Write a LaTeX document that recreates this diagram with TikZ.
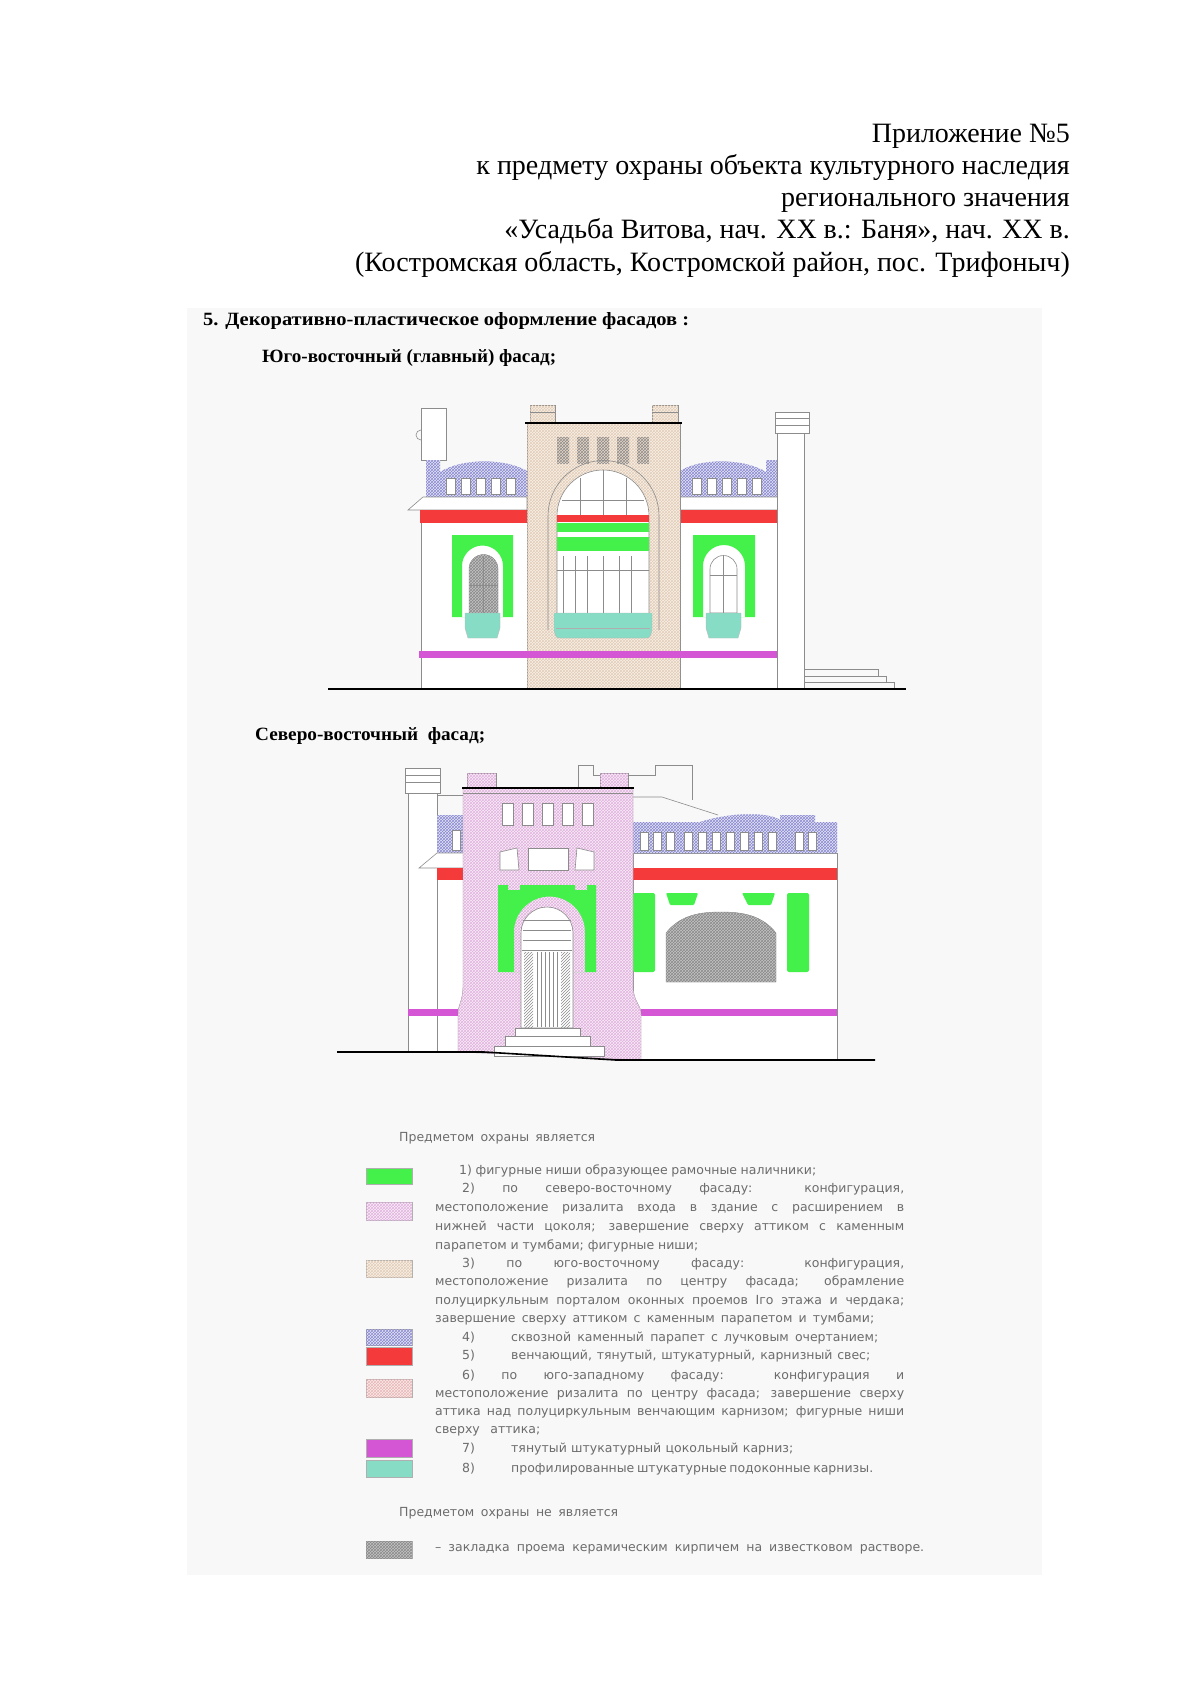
\documentclass[tikz,border=0pt]{standalone}
\usepackage{fontspec}
\setmainfont{Liberation Serif}
\newfontfamily\cadfont{DejaVu Sans}
\usetikzlibrary{patterns}
\definecolor{panel}{HTML}{F8F8F8}
\definecolor{cgreen}{HTML}{44F04A}
\definecolor{cred}{HTML}{F43A3A}
\definecolor{cmag}{HTML}{D456D4}
\definecolor{cteal}{HTML}{86DCC4}
\definecolor{cbeige}{HTML}{F8F0E6}
\definecolor{cbeigeP}{HTML}{E2CDB8}
\definecolor{cpink}{HTML}{FAEAF8}
\definecolor{cpinkP}{HTML}{E0B4DE}
\definecolor{cblue}{HTML}{E4E4F6}
\definecolor{cblueP}{HTML}{8A8AD0}
\definecolor{clpink}{HTML}{FBEAEA}
\definecolor{clpinkP}{HTML}{E8B8B8}
\definecolor{cgray}{HTML}{C4C4C4}
\definecolor{cgrayP}{HTML}{8A8A8A}
\definecolor{lin}{HTML}{8C8C8C}
\definecolor{txt}{HTML}{6C6C6C}
\tikzset{
  ol/.style={draw=lin,line width=0.6pt},
  fbeige/.style={fill=cbeige,postaction={pattern=crosshatch,pattern color=cbeigeP}},
  fbeiged/.style={fill=cbeigeP!80,postaction={pattern=crosshatch,pattern color=lin}},
  fpink/.style={fill=cpink,postaction={pattern=crosshatch,pattern color=cpinkP}},
  fblue/.style={fill=cblue,postaction={pattern=crosshatch,pattern color=cblueP}},
  flpink/.style={fill=clpink,postaction={pattern=crosshatch,pattern color=clpinkP}},
  fgray/.style={fill=cgray,postaction={pattern=crosshatch,pattern color=cgrayP}},
  hdr/.style={anchor=base east,inner sep=0pt,font=\fontsize{28}{32}\selectfont},
  lg/.style={anchor=west,inner sep=0pt,text=txt,font=\cadfont\fontsize{12.5}{14}\selectfont},
  sw/.style={draw=lin!70,line width=0.5pt},
  gl/.style={draw=black,line width=1.6pt}
}
\newcommand{\LL}[2]{\makebox[#1pt][s]{#2}}
\begin{document}
\begin{tikzpicture}[x=1pt,y=-1pt]
\useasboundingbox (0,0) rectangle (1200,1697);
\fill[white] (0,0) rectangle (1200,1697);
\fill[panel] (187,308) rectangle (1042,1575);
% header
\node[hdr] (h1) at (1070,142) {Приложение №5};
\node[hdr] (h2) at (1070,174) {к предмету охраны объекта культурного наследия};
\node[hdr] (h3) at (1070,206) {регионального значения};
\node[hdr] (h4) at (1070,238) {«Усадьба Витова, нач. XX в.: Баня», нач. XX в.};
\node[hdr] (h5) at (1070,271) {(Костромская область, Костромской район, пос. Трифоныч)};
\node[anchor=west,inner sep=0pt] (t1) at (203,321) {\resizebox{486pt}{13pt}{\bfseries 5. Декоративно-пластическое оформление фасадов :}};
\node[anchor=west,inner sep=0pt] (t2) at (262,358) {\resizebox{294pt}{13pt}{\bfseries Юго-восточный (главный) фасад;}};
\node[anchor=west,inner sep=0pt] (t3) at (255,736) {\resizebox{230pt}{13pt}{\bfseries Северо-восточный\ \ фасад;}};

% ================= FACADE 1 =================
\draw[ol,fill=white] (421,408) rectangle (446,460);
\draw[ol] (421,440) arc[start angle=90,end angle=270,radius=5];
\draw[ol,fill=white] (421,510) rectangle (527,689);
\path[fblue] (426,460) -- (440,460) -- (440,472) .. controls (462,458) and (505,458) .. (527,471) -- (527,497) -- (426,497) -- cycle;
\foreach \x in {446,461,476,491,506} \draw[ol,fill=white] (\x,478) rectangle (\x+9,494);
\draw[ol,fill=white] (408,510) -- (423,497) -- (527,497) -- (527,510) -- cycle;
\fill[cred] (420,510) rectangle (527,523);
\path[fill=cgreen,even odd rule] (452,535) rectangle (513,617) (462,617) -- (462,566) arc[start angle=180,end angle=360,radius=20.5] -- (503,617) -- cycle;
\path[fgray,draw=lin] (469,613) -- (469,569) arc[start angle=180,end angle=360,radius=14.5] -- (498,613) -- cycle;
\draw[lin] (483.5,556) -- (483.5,613) (469,585) -- (498,585);
\fill[cteal,draw=lin!60] (465,613) -- (500,613) -- (500,628) -- (497,638) -- (468,638) -- (465,628) -- cycle;
\draw[ol,fill=white] (680,510) rectangle (783,689);
\path[fblue] (779,460) -- (766,460) -- (766,472) .. controls (744,458) and (700,458) .. (680,471) -- (680,497) -- (779,497) -- cycle;
\foreach \x in {692,707,722,737,752} \draw[ol,fill=white] (\x,478) rectangle (\x+9,494);
\draw[ol,fill=white] (798,510) -- (783,497) -- (680,497) -- (680,510) -- cycle;
\fill[cred] (680,510) rectangle (781,523);
\path[fill=cgreen,even odd rule] (693,535) rectangle (755,617) (703,617) -- (703,566) arc[start angle=180,end angle=360,radius=21] -- (745,617) -- cycle;
\draw[ol,fill=white] (710,613) -- (710,569) arc[start angle=180,end angle=360,radius=13.5] -- (737,613) -- cycle;
\draw[lin] (723.5,556) -- (723.5,613) (710,575) -- (737,575);
\fill[cteal,draw=lin!60] (706,613) -- (741,613) -- (741,628) -- (738,638) -- (709,638) -- (706,628) -- cycle;
\draw[ol,fbeige] (527,423) rectangle (680,689);
\draw[ol,fbeige] (530,405) rectangle (555,423);
\draw[ol,fbeige] (652,405) rectangle (678,423);
\draw[ol] (530,412) -- (555,412) (652,412) -- (678,412);
\draw[black,line width=1.5pt] (525,423) -- (682,423);
\foreach \x in {557,577,597,617,637} \path[fbeiged] (\x,437) rectangle (\x+12,463);
\draw[ol] (548,630) -- (548,516) arc[start angle=180,end angle=360,radius=55.5] -- (659,630);
\draw[ol,fill=white] (557,630) -- (557,516) arc[start angle=180,end angle=360,radius=46] -- (649,630) -- cycle;
\draw[lin] (580,478) -- (580,515) (626,478) -- (626,515) (603,470) -- (603,515) (562,500) -- (644,500);
\fill[cred] (557,515) rectangle (649,522);
\fill[cgreen] (557,523) rectangle (649,532);
\fill[cgreen] (557,537) rectangle (649,551);
\foreach \x in {563,575,587,603,619,631} \draw[lin] (\x,556) -- (\x,613);
\draw[lin] (557,570) -- (649,570);
\fill[cteal,draw=lin!60] (554,613) -- (652,613) -- (652,630) .. controls (650,638) .. (645,638) -- (561,638) .. controls (556,638) .. (554,630) -- cycle;
\draw[lin!70] (556,628) -- (650,628);
\fill[cmag] (419,651) rectangle (783,658);
\draw[ol,fill=white] (777,433) rectangle (804,689);
\draw[ol,fill=white] (775,412) rectangle (809,433);
\draw[ol] (775,418) -- (809,418) (775,425) -- (809,425);
\draw[ol] (804,669) -- (878,669) -- (878,676) -- (886,676) -- (886,682) -- (894,682) -- (894,689);
\draw[ol] (804,676) -- (878,676) (804,682) -- (886,682);
\draw[gl] (328,689) -- (906,689);

% ================= FACADE 2 =================
\draw[ol] (578,805) -- (578,765) -- (593,765) -- (593,775) -- (655,775) -- (655,765) -- (692,765) -- (692,800);
\draw[ol] (633,797) -- (662,797) -- (718,815);
\draw[ol] (437,795) -- (463,795);
\draw[ol,fill=white] (408,793) rectangle (437,1052);
\draw[ol,fill=white] (405,768) rectangle (440,793);
\draw[ol] (405,775) -- (440,775) (405,782) -- (440,782);
\draw[ol,fill=white] (437,853) rectangle (466,1052);
\path[fblue] (437,815) rectangle (466,853);
\draw[ol,fill=white] (452,830) rectangle (460,850);
\draw[ol,fill=white] (419,868) -- (437,853) -- (466,853) -- (466,868) -- cycle;
\fill[cred] (437,868) rectangle (466,880);
\fill[cmag] (408,1009) rectangle (458,1016);
\draw[ol,fill=white] (633,853) rectangle (837,1060);
\path[fblue] (633,822) -- (700,822) .. controls (730,812) and (770,812) .. (780,820) -- (780,815) -- (815,815) -- (815,822) -- (837,822) -- (837,853) -- (633,853) -- cycle;
\foreach \x in {640,653,666,684,698,712,726,740,754,768,795,808} \draw[ol,fill=white] (\x,832) rectangle (\x+8,850);
\fill[cred] (633,868) rectangle (837,880);
\fill[cmag] (641,1009) rectangle (837,1016);
\fill[cgreen,rounded corners=2pt] (633,893) rectangle (655,972);
\fill[cgreen,rounded corners=2pt] (787,893) rectangle (809,972);
\fill[cgreen,rounded corners=1pt] (666,893) -- (698,893) -- (694,905) -- (670,905) -- cycle;
\fill[cgreen,rounded corners=1pt] (742,893) -- (775,893) -- (771,905) -- (748,905) -- cycle;
\path[fgray,draw=lin] (666,982) -- (666,933) .. controls (680,915) and (700,912) .. (721,912) .. controls (742,912) and (762,915) .. (776,933) -- (776,982) -- cycle;
\path[fpink,draw=lin] (463,788) -- (633,788) -- (633,985) .. controls (633,1002) and (641,1004) .. (641,1014) -- (641,1060) -- (458,1052) -- (458,1014) .. controls (458,1004) and (463,1002) .. (463,985) -- cycle;
\draw[ol,fpink] (467,773) rectangle (496,788);
\draw[ol,fpink] (600,773) rectangle (628,788);
\draw[black,line width=1.5pt] (462,788) -- (634,788);
\draw[ol] (463,793) -- (633,793);
\foreach \x in {502,522,542,562,582} \draw[ol,fill=white] (\x,803) rectangle (\x+11,825);
\draw[ol,fill=white] (500,852) -- (517,848) -- (519,870) -- (500,870) -- cycle;
\draw[ol,fill=white] (528,848) rectangle (568,870);
\draw[ol,fill=white] (594,852) -- (577,848) -- (575,870) -- (594,870) -- cycle;
\path[fill=cgreen,even odd rule] (498,885) -- (508,885) -- (508,890) -- (520,890) -- (520,885) -- (575,885) -- (575,890) -- (587,890) -- (587,885) -- (596,885) -- (596,972) -- (498,972) -- cycle (514,972) -- (514,932) arc[start angle=180,end angle=360,radius=35.5] -- (585,972) -- cycle;
\draw[ol,fill=white] (521,1028) -- (521,933) arc[start angle=180,end angle=360,radius=26] -- (573,1028) -- cycle;
\foreach \y in {920,930,940} \draw[lin] (523,\y) -- (571,\y);
\draw[ol] (522,950) -- (572,950);
\path[pattern=north east lines,pattern color=lin] (524,952) rectangle (533,1027);
\path[pattern=north east lines,pattern color=lin] (561,952) rectangle (570,1027);
\foreach \x in {537,541,545,549,553,557} \draw[lin] (\x,952) -- (\x,1027);
\draw[ol,fill=white] (515,1028) rectangle (580,1036);
\draw[ol,fill=white] (505,1036) rectangle (590,1046);
\draw[ol,fill=white] (494,1046) rectangle (604,1056);
\draw[gl] (337,1052) -- (484,1052) -- (616,1060) -- (875,1060);

% ================= LEGEND =================
\node[lg] (lh1) at (399,1138) {\LL{196}{Предметом охраны является}};
\draw[sw,fill=cgreen] (366,1168) rectangle (412,1184);
\path[sw,fpink,draw=lin!70] (366,1202) rectangle (412,1220);
\path[sw,fbeige,draw=lin!70] (366,1260) rectangle (412,1277);
\path[sw,fblue,draw=lin!70] (366,1329) rectangle (412,1345);
\draw[sw,fill=cred] (366,1347) rectangle (412,1365);
\path[sw,flpink,draw=lin!70] (366,1379) rectangle (412,1397);
\draw[sw,fill=cmag] (366,1439) rectangle (412,1457);
\draw[sw,fill=cteal] (366,1460) rectangle (412,1477);
\path[sw,fgray,draw=lin!70] (366,1541) rectangle (412,1558);

\node[lg] (l1) at (459,1171) {\LL{357}{1) фигурные ниши образующее рамочные наличники;}};
\node[lg] (l2) at (462,1189) {\LL{442}{2) по северо-восточному фасаду: конфигурация,}};
\node[lg] (l3) at (435,1209) {\LL{469}{местоположение ризалита входа в здание с расширением в}};
\node[lg] (l4) at (435,1227) {\LL{469}{нижней части цоколя; завершение сверху аттиком с каменным}};
\node[lg] (l5) at (435,1246) {\LL{263}{парапетом и тумбами; фигурные ниши;}};
\node[lg] (l6) at (462,1264) {\LL{442}{3) по юго-восточному фасаду: конфигурация,}};
\node[lg] (l7) at (435,1282) {\LL{469}{местоположение ризалита по центру фасада; обрамление}};
\node[lg] (l8) at (435,1301) {\LL{469}{полуциркульным порталом оконных проемов Iго этажа и чердака;}};
\node[lg] (l9) at (435,1319) {\LL{439}{завершение сверху аттиком с каменным парапетом и тумбами;}};
\node[lg] (n4) at (462,1338) {4)};
\node[lg] (l10) at (511,1338) {\LL{367}{сквозной каменный парапет с лучковым очертанием;}};
\node[lg] (n5) at (462,1356) {5)};
\node[lg] (l11) at (511,1356) {\LL{359}{венчающий, тянутый, штукатурный, карнизный свес;}};
\node[lg] (l12) at (462,1376) {\LL{442}{6) по юго-западному фасаду: конфигурация и}};
\node[lg] (l13) at (435,1394) {\LL{469}{местоположение ризалита по центру фасада; завершение сверху}};
\node[lg] (l14) at (435,1412) {\LL{469}{аттика над полуциркульным венчающим карнизом; фигурные ниши}};
\node[lg] (l15) at (435,1431) {\LL{105}{сверху аттика;}};
\node[lg] (n7) at (462,1449) {7)};
\node[lg] (l16) at (511,1449) {\LL{282}{тянутый штукатурный цокольный карниз;}};
\node[lg] (n8) at (462,1469) {8)};
\node[lg] (l17) at (511,1469) {\LL{361}{профилированные штукатурные подоконные карнизы.}};
\node[lg] (lh2) at (399,1513) {\LL{219}{Предметом охраны не является}};
\node[lg] (l18) at (435,1549) {\LL{489}{– закладка проема керамическим кирпичем на известковом растворе.}};
\end{tikzpicture}
\end{document}
